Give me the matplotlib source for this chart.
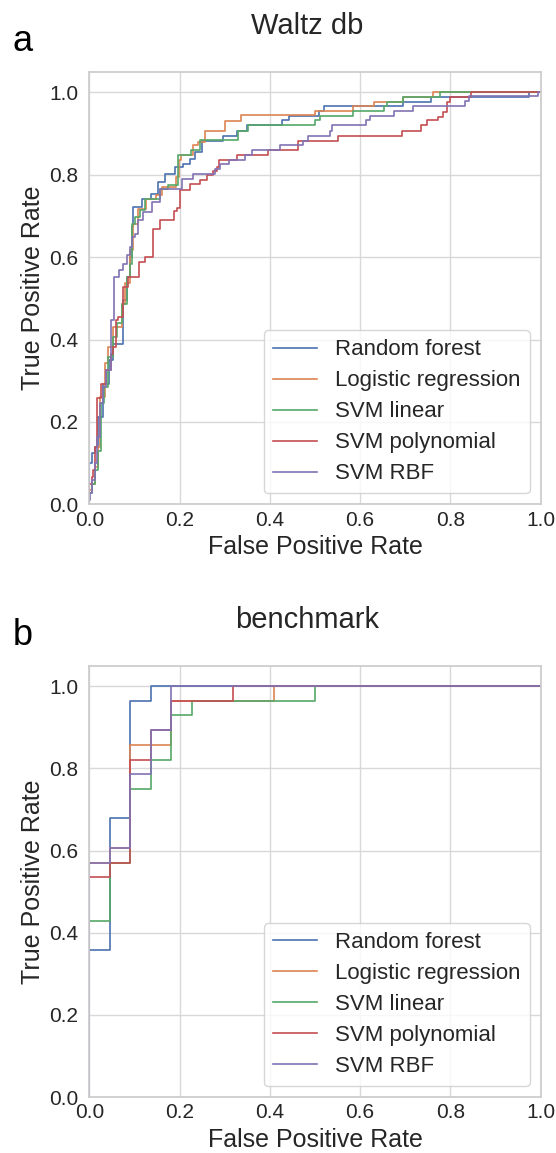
import matplotlib
matplotlib.use("Agg")
import matplotlib.pyplot as plt

plt.rcParams['font.family'] = ['Liberation Sans', 'DejaVu Sans']

model_names = ['Random forest', 'Logistic regression', 'SVM linear', 'SVM polynomial', 'SVM RBF']
model_colors = ['#4C72B0', '#DD8452', '#55A868', '#C44E52', '#8172B3']

# Waltz db ROC curves (corner points)
waltz_rf_fpr = [0, 0, 0.005, 0.013, 0.02, 0.031, 0.044, 0.053, 0.074, 0.083, 0.09, 0.094, 0.097, 0.116, 0.136,
                0.153, 0.168, 0.19, 0.208, 0.223, 0.234, 0.249, 0.297, 0.327, 0.349, 0.426, 0.443, 0.51, 0.52,
                0.696, 0.758, 0.975, 1.0]
waltz_rf_tpr = [0, 0.1, 0.124, 0.14, 0.212, 0.293, 0.35, 0.39, 0.495, 0.552, 0.6, 0.673, 0.722, 0.742, 0.754,
                0.782, 0.802, 0.818, 0.827, 0.839, 0.855, 0.883, 0.895, 0.907, 0.92, 0.932, 0.942, 0.954, 0.966,
                0.976, 0.988, 1.0, 1.0]

waltz_lr_fpr = [0, 0, 0.005, 0.013, 0.02, 0.024, 0.035, 0.042, 0.053, 0.072, 0.079, 0.09, 0.096, 0.107, 0.126,
                0.148, 0.16, 0.192, 0.199, 0.203, 0.23, 0.24, 0.256, 0.301, 0.336, 0.5, 0.585, 0.63, 0.694,
                0.762, 1.0]
waltz_lr_tpr = [0, 0.035, 0.05, 0.091, 0.14, 0.26, 0.342, 0.382, 0.43, 0.487, 0.536, 0.617, 0.68, 0.718, 0.742,
                0.75, 0.77, 0.794, 0.835, 0.847, 0.871, 0.88, 0.907, 0.93, 0.944, 0.954, 0.966, 0.976, 0.988,
                1.0, 1.0]

waltz_lin_fpr = [0, 0, 0.005, 0.013, 0.02, 0.025, 0.033, 0.042, 0.053, 0.062, 0.072, 0.083, 0.09, 0.094, 0.101,
                 0.112, 0.124, 0.157, 0.175, 0.197, 0.225, 0.245, 0.33, 0.352, 0.5, 0.511, 0.585, 0.652, 0.659,
                 0.694, 0.776, 1.0]
waltz_lin_tpr = [0, 0.027, 0.05, 0.083, 0.13, 0.245, 0.285, 0.358, 0.406, 0.439, 0.487, 0.552, 0.584, 0.681,
                 0.697, 0.714, 0.742, 0.766, 0.774, 0.847, 0.86, 0.885, 0.907, 0.92, 0.932, 0.942, 0.954, 0.966,
                 0.976, 0.988, 1.0, 1.0]

waltz_poly_fpr = [0, 0, 0.005, 0.009, 0.013, 0.018, 0.027, 0.038, 0.049, 0.053, 0.059, 0.064, 0.074, 0.085,
                  0.111, 0.123, 0.142, 0.157, 0.187, 0.194, 0.201, 0.224, 0.245, 0.26, 0.275, 0.282, 0.288, 0.327,
                  0.397, 0.463, 0.552, 0.692, 0.734, 0.748, 0.773, 0.783, 0.792, 0.799, 0.846, 1.0]
waltz_poly_tpr = [0, 0.05, 0.067, 0.083, 0.14, 0.257, 0.293, 0.326, 0.366, 0.382, 0.447, 0.455, 0.528, 0.552,
                  0.588, 0.6, 0.669, 0.69, 0.713, 0.72, 0.762, 0.778, 0.786, 0.8, 0.81, 0.819, 0.836, 0.848,
                  0.861, 0.883, 0.895, 0.907, 0.92, 0.932, 0.94, 0.952, 0.976, 0.988, 1.0, 1.0]

waltz_rbf_fpr = [0, 0, 0.0015, 0.005, 0.013, 0.016, 0.024, 0.031, 0.038, 0.049, 0.055, 0.066, 0.074, 0.083,
                 0.09, 0.094, 0.101, 0.108, 0.12, 0.139, 0.157, 0.205, 0.23, 0.279, 0.29, 0.31, 0.345, 0.36,
                 0.423, 0.474, 0.485, 0.534, 0.538, 0.614, 0.622, 0.674, 0.718, 0.833, 0.842, 0.995, 1.0]
waltz_rbf_tpr = [0, 0.01, 0.027, 0.06, 0.1, 0.164, 0.245, 0.285, 0.326, 0.447, 0.552, 0.568, 0.584, 0.604,
                 0.625, 0.649, 0.657, 0.69, 0.709, 0.734, 0.766, 0.79, 0.802, 0.813, 0.825, 0.835, 0.847, 0.859,
                 0.871, 0.883, 0.895, 0.907, 0.92, 0.932, 0.942, 0.954, 0.966, 0.979, 0.99, 1.0, 1.0]

# benchmark ROC curves
bench_rf_fpr = [0, 0, 0.045, 0.091, 0.136, 1.0]
bench_rf_tpr = [0, 0.357, 0.679, 0.964, 1.0, 1.0]
bench_lr_fpr = [0, 0, 0.045, 0.091, 0.182, 0.409, 1.0]
bench_lr_tpr = [0, 0.571, 0.607, 0.857, 0.964, 1.0, 1.0]
bench_lin_fpr = [0, 0, 0.045, 0.091, 0.136, 0.182, 0.227, 0.5, 1.0]
bench_lin_tpr = [0, 0.429, 0.571, 0.75, 0.821, 0.929, 0.964, 1.0, 1.0]
bench_poly_fpr = [0, 0, 0.045, 0.091, 0.136, 0.182, 0.318, 1.0]
bench_poly_tpr = [0, 0.536, 0.571, 0.821, 0.893, 0.964, 1.0, 1.0]
bench_rbf_fpr = [0, 0, 0.045, 0.091, 0.136, 0.182, 1.0]
bench_rbf_tpr = [0, 0.571, 0.607, 0.786, 0.893, 1.0, 1.0]

waltz_curves = [(waltz_rf_fpr, waltz_rf_tpr), (waltz_lr_fpr, waltz_lr_tpr), (waltz_lin_fpr, waltz_lin_tpr),
                (waltz_poly_fpr, waltz_poly_tpr), (waltz_rbf_fpr, waltz_rbf_tpr)]
bench_curves = [(bench_rf_fpr, bench_rf_tpr), (bench_lr_fpr, bench_lr_tpr), (bench_lin_fpr, bench_lin_tpr),
                (bench_poly_fpr, bench_poly_tpr), (bench_rbf_fpr, bench_rbf_tpr)]

ticks = [0.0, 0.2, 0.4, 0.6, 0.8, 1.0]
text_color = '#262626'


def draw_roc(fig, rect, title, letter, curves):
    ax = fig.add_axes(rect)
    ax.set_facecolor('white')
    for (fpr, tpr), name, color in zip(curves, model_names, model_colors):
        ax.step(fpr, tpr, where='post', color=color, lw=1.2, label=name)

    ax.set_xlim(0, 1)
    ax.set_ylim(0, 1.05)
    ax.set_xticks(ticks)
    ax.set_yticks(ticks)
    ax.grid(True, color='#d8d8d8', lw=1.0)
    ax.set_axisbelow(True)
    for s in ax.spines.values():
        s.set_color('#cccccc')
        s.set_linewidth(1.25)
    ax.tick_params(axis='both', length=0, labelsize=15, labelcolor=text_color)
    ax.tick_params(axis='x', pad=4.5)
    ax.tick_params(axis='y', pad=8)
    ax.set_xlabel('False Positive Rate', fontsize=18, color=text_color, labelpad=4)
    ax.set_ylabel('True Positive Rate', fontsize=18, color=text_color, labelpad=3)
    ax.set_title(title, fontsize=21, color=text_color, pad=27, x=0.483)

    leg = ax.legend(loc='lower right', fontsize=16, frameon=True, fancybox=True,
                    handlelength=2.0, labelspacing=0.45, borderaxespad=0.5)
    leg.get_frame().set_edgecolor('#cccccc')
    leg.get_frame().set_facecolor('white')
    leg.get_frame().set_alpha(0.8)
    for t in leg.get_texts():
        t.set_color(text_color)

    top = rect[1] + rect[3]
    fig.text(13 / 556, top + 21 / 1153, letter, fontsize=26, color='black', va='baseline', ha='left')
    return ax


fig = plt.figure(figsize=(5.56, 11.53), dpi=100)
fig.patch.set_facecolor('white')

draw_roc(fig, [0.1606, 0.5626, 0.8118, 0.3752], 'Waltz db', 'a', waltz_curves)
draw_roc(fig, [0.1606, 0.0485, 0.8118, 0.3741], 'benchmark', 'b', bench_curves)

fig.savefig('out.png', dpi=100, facecolor='white')
